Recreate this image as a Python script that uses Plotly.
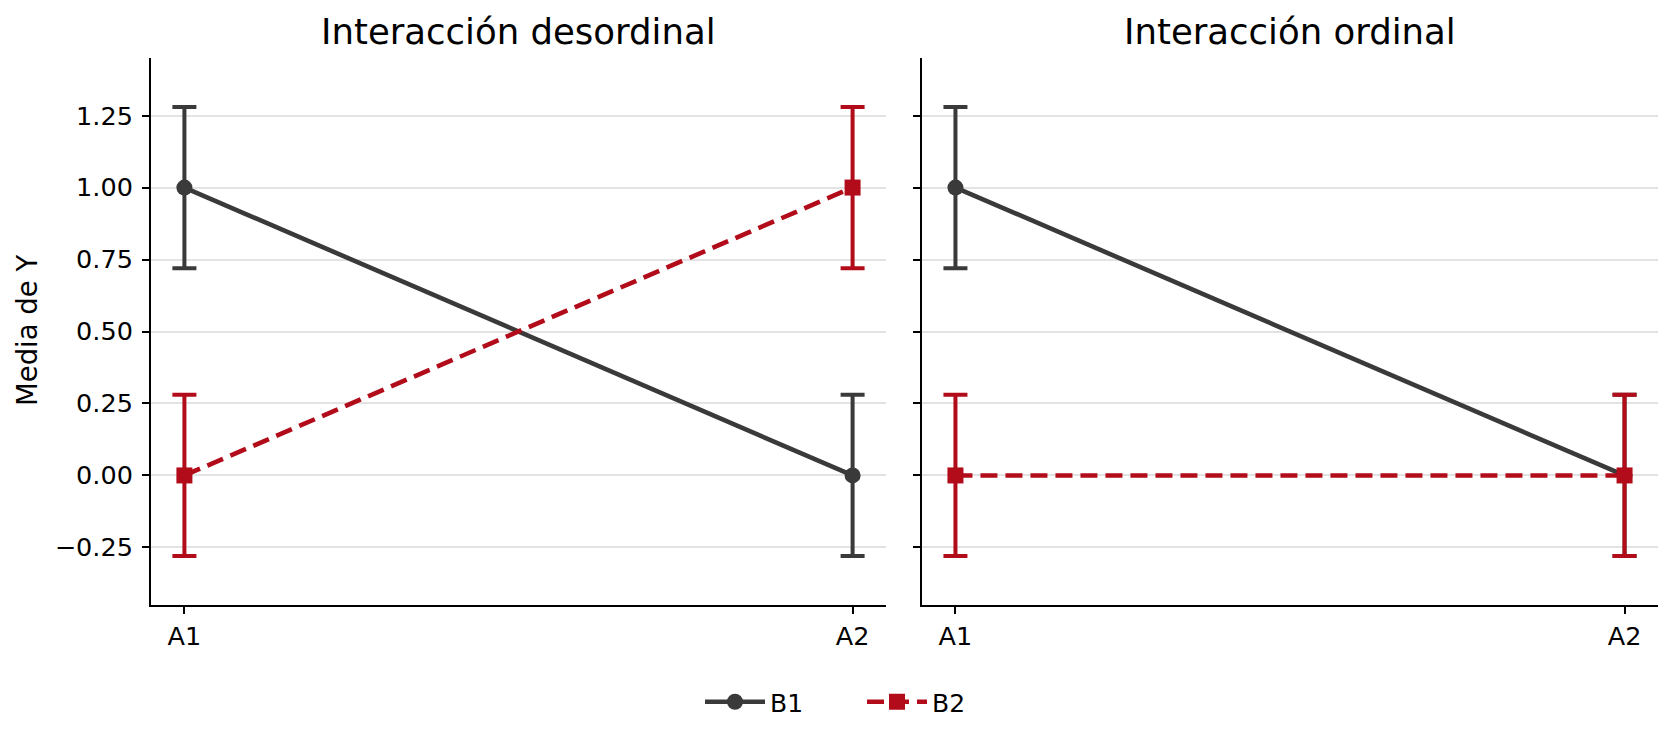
import plotly.graph_objects as go

# ---- data ----
categories = ["A1", "A2"]
series_names = ["B1", "B2"]
desordinal_B1 = [1.0, 0.0]
desordinal_B2 = [0.0, 1.0]
ordinal_B1 = [1.0, 0.0]
ordinal_B2 = [0.0, 0.0]
err_B1 = [0.28, 0.28]
err_B2 = [0.28, 0.28]
panel_titles = ["Interacción desordinal", "Interacción ordinal"]
y_tickvals = [-0.25, 0.0, 0.25, 0.5, 0.75, 1.0, 1.25]
y_ticktext = ["\u22120.25", "0.00", "0.25", "0.50", "0.75", "1.00", "1.25"]
y_label = "Media de Y"

# ---- style ----
W, H = 1675, 740
FONT = "DejaVu Sans"
GRAY = "#3a3a3a"
RED = "#b20c1a"
LW = 4.6
DASH = "17px,8px"

def px_x(p):
    return p / W

def px_y(p):
    return 1 - p / H

fig = go.Figure()

panels = [
    (desordinal_B1, desordinal_B2, "x", "y"),
    (ordinal_B1, ordinal_B2, "x2", "y2"),
]
for i, (b1, b2, xa, ya) in enumerate(panels):
    fig.add_trace(go.Scatter(
        x=categories, y=b1, xaxis=xa, yaxis=ya, name=series_names[0],
        mode="lines+markers", showlegend=(i == 0), legend="legend",
        line=dict(color=GRAY, width=LW),
        marker=dict(symbol="circle", size=16, color=GRAY),
        error_y=dict(type="data", array=err_B1, visible=True,
                     color=GRAY, thickness=4, width=12),
    ))
    fig.add_trace(go.Scatter(
        x=categories, y=b2, xaxis=xa, yaxis=ya, name=series_names[1],
        mode="lines+markers", showlegend=(i == 0), legend="legend2",
        line=dict(color=RED, width=LW, dash=DASH),
        marker=dict(symbol="square", size=16, color=RED),
        error_y=dict(type="data", array=err_B2, visible=True,
                     color=RED, thickness=4, width=12),
    ))

ydom = [px_y(605), px_y(58)]
xaxis_common = dict(
    type="category", range=[-0.05, 1.05], showgrid=False, zeroline=False,
    showline=True, linecolor="black", linewidth=2,
    ticks="outside", ticklen=7, tickwidth=2, tickcolor="black",
    tickfont=dict(family=FONT, size=25.5, color="black"),
    fixedrange=True,
)
yaxis_common = dict(
    range=[-0.45, 1.45], tickvals=y_tickvals, ticktext=y_ticktext,
    showgrid=True, gridcolor="#e3e3e3", gridwidth=1.5, zeroline=False,
    showline=True, linecolor="black", linewidth=2,
    ticks="outside", ticklen=7, tickwidth=2, tickcolor="black",
    tickfont=dict(family=FONT, size=25.5, color="black"),
    ticklabelstandoff=4,
    domain=ydom,
)
legend_common = dict(
    orientation="h", xanchor="left", y=px_y(702), yanchor="middle",
    font=dict(family=FONT, size=25, color="black"),
    bgcolor="rgba(0,0,0,0)", itemwidth=60,
)

fig.update_layout(
    width=W, height=H,
    margin=dict(l=0, r=0, t=0, b=0),
    paper_bgcolor="white", plot_bgcolor="white",
    font=dict(family=FONT, color="black"),
    xaxis=dict(xaxis_common, domain=[px_x(151), px_x(886)], anchor="y"),
    xaxis2=dict(xaxis_common, domain=[px_x(922), px_x(1658)], anchor="y2"),
    yaxis=dict(yaxis_common, anchor="x"),
    yaxis2=dict(yaxis_common, anchor="x2", showticklabels=False),
    showlegend=True,
    legend=dict(legend_common, x=px_x(700)),
    legend2=dict(legend_common, x=px_x(862)),
    annotations=[
        dict(text=panel_titles[0], xref="paper", yref="paper",
             x=px_x(518), y=px_y(31), xanchor="center", yanchor="middle",
             showarrow=False, font=dict(family=FONT, size=35.5, color="black")),
        dict(text=panel_titles[1], xref="paper", yref="paper",
             x=px_x(1290), y=px_y(31), xanchor="center", yanchor="middle",
             showarrow=False, font=dict(family=FONT, size=35.5, color="black")),
        dict(text=y_label, xref="paper", yref="paper",
             x=px_x(27), y=px_y(331), xanchor="center", yanchor="middle",
             textangle=-90, showarrow=False,
             font=dict(family=FONT, size=27.5, color="black")),
    ],
)

fig.write_html("out.html",
               config={"displayModeBar": False},
               post_script="document.body.style.margin='0';")
